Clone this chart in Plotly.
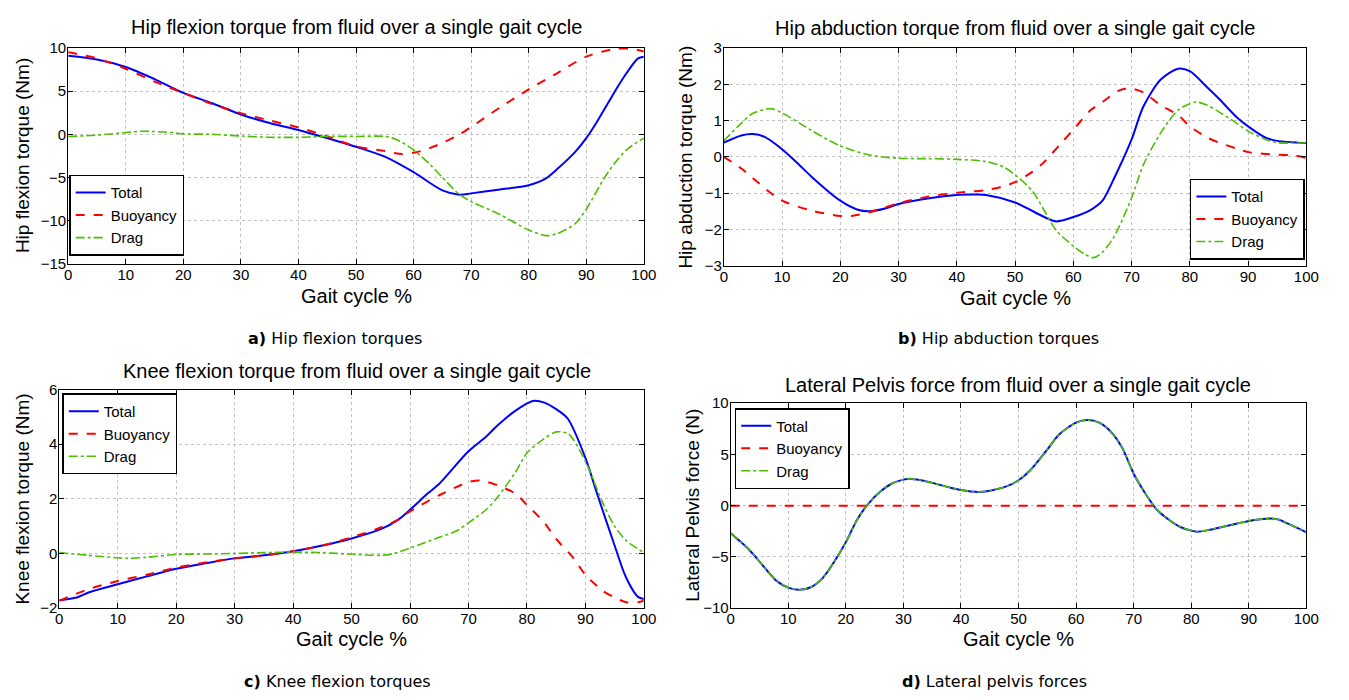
import plotly.graph_objects as go

W, H = 1349, 700

# ---------------- data ----------------
# Panel a: hip flexion torque (Nm)
a_total_x = [0, 5, 10, 15, 20, 25, 30, 35, 40, 45, 50, 55, 60, 65, 68, 70, 75, 80, 83, 85, 88, 90, 92, 95, 97, 99, 100]
a_total_y = [9.1, 8.66, 7.8, 6.4, 4.8, 3.6, 2.3, 1.3, 0.5, -0.45, -1.45, -2.6, -4.4, -6.5, -7.0, -6.85, -6.4, -5.9, -5.1, -4.0, -2.1, -0.45, 1.6, 5.0, 7.1, 8.8, 9.0]
a_buoy_x = [0, 5, 10, 15, 20, 25, 30, 35, 40, 45, 50, 55, 58, 60, 62, 65, 68, 70, 75, 80, 85, 90, 95, 98, 100]
a_buoy_y = [9.5, 8.8, 7.6, 6.1, 4.8, 3.5, 2.45, 1.6, 0.8, -0.25, -1.4, -1.95, -2.3, -2.15, -1.8, -1.0, 0.0, 0.85, 3.1, 5.2, 7.1, 9.0, 9.9, 9.9, 9.6]
a_drag_x = [0, 5, 10, 13, 18, 20, 25, 30, 35, 40, 45, 50, 55, 57, 60, 63, 65, 68, 70, 75, 80, 83, 85, 88, 90, 93, 95, 97, 100]
a_drag_y = [-0.25, -0.1, 0.2, 0.35, 0.2, 0.05, 0.0, -0.2, -0.35, -0.35, -0.25, -0.25, -0.25, -0.6, -1.8, -3.6, -5.0, -7.0, -7.8, -9.3, -11.1, -11.75, -11.5, -10.4, -8.7, -5.2, -3.3, -1.8, -0.45]

# Panel b: hip abduction torque (Nm)
b_total_x = [0, 3, 5, 7, 10, 13, 15, 20, 23, 25, 28, 30, 35, 40, 43, 45, 50, 55, 57, 60, 63, 65, 67, 70, 72, 75, 78, 80, 83, 85, 88, 90, 93, 95, 100]
b_total_y = [0.39, 0.59, 0.63, 0.55, 0.21, -0.23, -0.54, -1.21, -1.46, -1.5, -1.41, -1.3, -1.15, -1.05, -1.04, -1.05, -1.26, -1.66, -1.78, -1.66, -1.46, -1.21, -0.59, 0.48, 1.38, 2.13, 2.43, 2.36, 1.91, 1.6, 1.1, 0.84, 0.53, 0.44, 0.38]
b_buoy_x = [0, 3, 5, 8, 10, 15, 20, 22, 25, 30, 35, 40, 45, 48, 50, 53, 55, 58, 60, 63, 65, 68, 70, 72, 75, 78, 80, 83, 85, 88, 90, 95, 98, 100]
b_buoy_y = [0.0, -0.32, -0.59, -0.99, -1.21, -1.48, -1.63, -1.63, -1.53, -1.28, -1.1, -0.99, -0.92, -0.81, -0.7, -0.41, -0.14, 0.39, 0.75, 1.29, 1.51, 1.84, 1.88, 1.78, 1.42, 1.15, 0.84, 0.53, 0.39, 0.23, 0.13, 0.06, 0.04, -0.03]
b_drag_x = [0, 3, 5, 8, 10, 13, 15, 20, 25, 30, 35, 40, 45, 48, 50, 53, 55, 57, 60, 62, 63.5, 65, 67, 70, 72, 75, 78, 81, 83, 85, 88, 90, 93, 95, 100]
b_drag_y = [0.44, 0.93, 1.2, 1.33, 1.21, 0.93, 0.73, 0.3, 0.05, -0.04, -0.05, -0.07, -0.13, -0.28, -0.5, -0.95, -1.48, -2.02, -2.46, -2.69, -2.78, -2.63, -2.2, -1.13, -0.23, 0.66, 1.29, 1.51, 1.42, 1.24, 0.93, 0.71, 0.48, 0.39, 0.39]

# Panel c: knee flexion torque (Nm)
c_total_x = [0, 3, 5, 10, 15, 20, 25, 30, 35, 40, 45, 50, 55, 58, 60, 63, 65, 70, 73, 75, 78, 81, 83, 85, 87, 90, 92, 95, 97, 99, 100]
c_total_y = [-1.71, -1.61, -1.43, -1.13, -0.84, -0.56, -0.36, -0.18, -0.07, 0.08, 0.29, 0.55, 0.89, 1.24, 1.6, 2.19, 2.55, 3.74, 4.27, 4.69, 5.22, 5.58, 5.52, 5.28, 4.93, 3.5, 2.19, 0.29, -0.9, -1.59, -1.67]
c_buoy_x = [0, 5, 10, 15, 20, 25, 30, 35, 40, 45, 50, 55, 58, 60, 65, 70, 72, 75, 78, 80, 83, 85, 88, 90, 93, 95, 97, 99, 100]
c_buoy_y = [-1.73, -1.31, -1.01, -0.78, -0.52, -0.33, -0.18, -0.07, 0.08, 0.29, 0.59, 0.95, 1.24, 1.54, 2.13, 2.61, 2.67, 2.49, 2.19, 1.78, 1.12, 0.53, -0.18, -0.78, -1.37, -1.61, -1.79, -1.79, -1.73]
c_drag_x = [0, 5, 10, 12, 15, 20, 25, 30, 35, 40, 45, 50, 55, 57, 60, 65, 68, 70, 73, 75, 78, 80, 83, 85, 87, 88, 90, 93, 95, 97, 100]
c_drag_y = [0.03, -0.07, -0.16, -0.18, -0.14, -0.04, -0.02, 0.0, 0.03, 0.05, 0.03, -0.03, -0.07, -0.02, 0.2, 0.59, 0.83, 1.12, 1.6, 2.07, 2.96, 3.68, 4.21, 4.45, 4.39, 4.15, 3.38, 1.84, 1.0, 0.47, 0.03]

# Panel d: lateral pelvis force (N)
d_x = [0, 3, 5, 8, 10, 12, 14, 16, 18, 20, 22, 24, 26, 28, 30, 31, 33, 35, 38, 40, 43, 45, 48, 50, 52, 55, 57, 60, 62, 64, 66, 68, 70, 72, 74, 76, 78, 80, 81, 83, 85, 88, 90, 93, 95, 97, 100]
d_total_y = [-2.7, -4.19, -5.46, -7.37, -8.0, -8.22, -7.94, -7.05, -5.46, -3.56, -1.33, 0.25, 1.37, 2.16, 2.54, 2.63, 2.48, 2.22, 1.78, 1.52, 1.33, 1.46, 1.9, 2.48, 3.43, 5.49, 6.92, 8.1, 8.35, 8.1, 7.24, 5.65, 3.11, 1.21, -0.38, -1.33, -2.06, -2.44, -2.54, -2.38, -2.13, -1.75, -1.49, -1.27, -1.33, -1.81, -2.6]
d_buoy_x = [0, 100]
d_buoy_y = [0, 0]
d_drag_y = d_total_y

titles = [
    "Hip flexion torque from fluid over a single gait cycle",
    "Hip abduction torque from fluid over a single gait cycle",
    "Knee flexion torque from fluid over a single gait cycle",
    "Lateral Pelvis force from fluid over a single gait cycle",
]
ylabels = ["Hip flexion torque (Nm)", "Hip abduction torque (Nm)",
           "Knee flexion torque (Nm)", "Lateral Pelvis force (N)"]
captions = [("a)", "Hip flexion torques"), ("b)", "Hip abduction torques"),
            ("c)", "Knee flexion torques"), ("d)", "Lateral pelvis forces")]
series_names = ["Total", "Buoyancy", "Drag"]

# ---------------- layout geometry (pixels) ----------------
boxes = [(65, 648, 40, 261), (729, 1319, 40, 263), (56, 648, 390, 614), (736, 1319, 404, 614)]
yranges = [(-15, 10, 5), (-3, 3, 1), (-2, 6, 2), (-10, 10, 5)]
title_pos = [(357, 18), (1024, 19), (357, 371), (1027, 385)]
xlabel_pos = [(357, 294), (1024, 296), (352, 646), (1027, 646)]
ylabel_pos = [(19, 150), (690, 152), (19, 502), (697, 509)]
caption_pos = [(335, 338), (1007, 338), (338, 689), (1003, 689)]
legend_pos = [(66, 253, "left", "bottom"), (1201, 257, "left", "bottom"),
              (59, 394, "left", "top"), (740, 409, "left", "top")]

BLUE = "rgb(0,0,255)"
RED = "rgb(255,0,0)"
GREEN = "rgb(77,190,0)"
TXT = "Liberation Sans, Arial, sans-serif"

data = [
    [(a_total_x, a_total_y), (a_buoy_x, a_buoy_y), (a_drag_x, a_drag_y)],
    [(b_total_x, b_total_y), (b_buoy_x, b_buoy_y), (b_drag_x, b_drag_y)],
    [(c_total_x, c_total_y), (c_buoy_x, c_buoy_y), (c_drag_x, c_drag_y)],
    [(d_x, d_total_y), (d_buoy_x, d_buoy_y), (d_x, d_drag_y)],
]
styles = [
    dict(color=BLUE, width=2, dash="solid"),
    dict(color=RED, width=2, dash="dash"),
    dict(color=GREEN, width=1.6, dash="dashdot"),
]

fig = go.Figure()

def px(x):
    return x / W

def py(y):
    return 1 - y / H

annotations = []
layout = dict(
    width=W, height=H, margin=dict(l=0, r=0, t=0, b=0),
    paper_bgcolor="white", plot_bgcolor="white",
    font=dict(family=TXT, size=15, color="black"),
)

for i in range(4):
    k = "" if i == 0 else str(i + 1)
    xa, ya = "x" + k, "y" + k
    lg = "legend" + k
    for j in range(3):
        xs, ys = data[i][j]
        fig.add_trace(go.Scatter(
            x=xs, y=ys, mode="lines", name=series_names[j],
            line=dict(shape="spline", smoothing=0.8, **styles[j]),
            xaxis=xa, yaxis=ya, legend=lg, showlegend=True,
        ))
    l, r, t, b = boxes[i]
    y0, y1, dt = yranges[i]
    axcommon = dict(showline=True, linecolor="black", linewidth=1, mirror="ticks",
                    ticks="inside", ticklen=5, tickcolor="black",
                    showgrid=True, gridcolor="rgb(195,195,195)", griddash="dot", gridwidth=1,
                    zeroline=False, tickfont=dict(family=TXT, size=15, color="black"))
    layout["xaxis" + k] = dict(domain=[px(l), px(r)], range=[0, 100], dtick=10, tick0=0,
                              anchor=ya, ticklabelstandoff=-3, **axcommon)
    layout["yaxis" + k] = dict(domain=[py(b), py(t)], range=[y0, y1], dtick=dt, tick0=y0,
                              anchor=xa, ticklabelstandoff=-2, **axcommon)
    lx, ly, xanc, yanc = legend_pos[i]
    layout[lg] = dict(x=px(lx), y=py(ly), xanchor=xanc, yanchor=yanc,
                      xref="paper", yref="paper",
                      bgcolor="white", bordercolor="black", borderwidth=1.5,
                      font=dict(family=TXT, size=15, color="black"),
                      tracegroupgap=0, itemwidth=30)
    tx, ty = title_pos[i]
    annotations.append(dict(text=titles[i], x=px(tx), y=py(ty), xref="paper", yref="paper",
                            showarrow=False, xanchor="center", yanchor="middle",
                            font=dict(family=TXT, size=20, color="black")))
    gx, gy = xlabel_pos[i]
    annotations.append(dict(text="Gait cycle %", x=px(gx), y=py(gy), xref="paper", yref="paper",
                            showarrow=False, xanchor="center", yanchor="middle",
                            font=dict(family=TXT, size=20, color="black")))
    vx, vy = ylabel_pos[i]
    annotations.append(dict(text=ylabels[i], x=px(vx), y=py(vy), xref="paper", yref="paper",
                            showarrow=False, xanchor="center", yanchor="middle", textangle=-90,
                            font=dict(family=TXT, size=19, color="black")))
    cx, cy = caption_pos[i]
    annotations.append(dict(text="<b>%s</b> %s" % captions[i], x=px(cx), y=py(cy),
                            xref="paper", yref="paper",
                            showarrow=False, xanchor="center", yanchor="middle",
                            font=dict(family="DejaVu Sans, sans-serif", size=16, color="black")))

layout["annotations"] = annotations
fig.update_layout(**layout)
fig.write_html("out.html")
